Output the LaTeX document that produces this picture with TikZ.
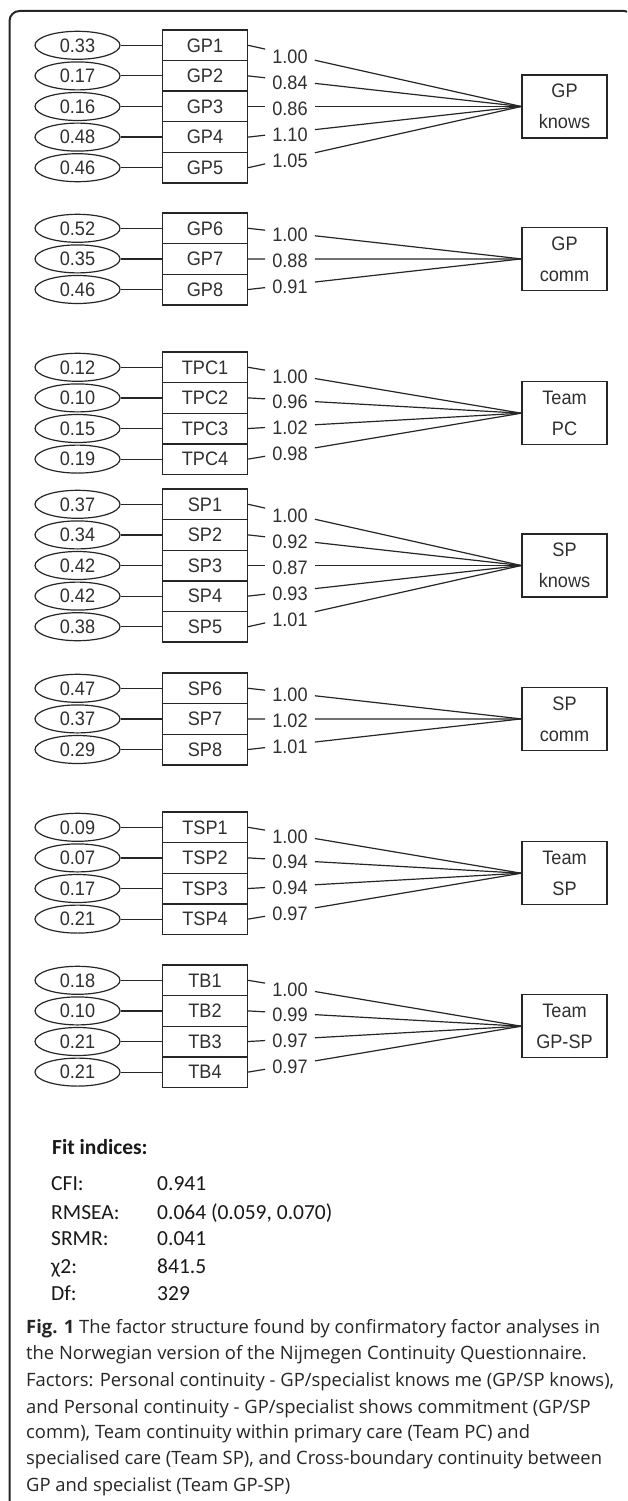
\documentclass[tikz,border=0pt]{standalone}
\usepackage{fontspec}
\setmainfont{Liberation Sans}
\newfontfamily\diafont[FakeStretch=0.93]{Liberation Sans}
\newfontfamily\capfont{Open Sans}
\newfontfamily\fitfont{Carlito}
\usetikzlibrary{shapes.geometric,calc}
\definecolor{ink}{HTML}{262626}
\definecolor{txt}{HTML}{303030}
\tikzset{
  ind/.style={draw=ink, line width=1.4pt, rectangle, minimum width=85pt, minimum height=30.6pt, inner sep=0pt, font=\diafont\fontsize{19.5pt}{21pt}\selectfont, text=txt},
  err/.style={draw=ink, line width=1.2pt, ellipse, minimum width=85pt, minimum height=28pt, inner sep=0pt, font=\diafont\fontsize{19.5pt}{21pt}\selectfont, text=txt},
  fac/.style={draw=ink, line width=1.4pt, rectangle, minimum width=85pt, minimum height=63pt, inner sep=0pt, align=center, font=\diafont\fontsize{19.5pt}{31pt}\selectfont, text=txt},
  conn/.style={draw=ink, line width=1.2pt},
  lab/.style={inner sep=0pt, font=\diafont\fontsize{19.5pt}{21pt}\selectfont, text=txt},
  captxt/.style={anchor=base west, inner sep=0pt, font=\capfont\fontsize{18.4pt}{21pt}\selectfont, text=black!85},
  fittxt/.style={anchor=base west, inner sep=0pt, font=\fitfont\fontsize{21.5pt}{25pt}\selectfont, text=black!90},
}
\newcommand\cfagroup[5]{%
  \pgfmathsetmacro\fy{#2+#3*15.3}
  \node[fac] (#1-f) at (564.5,\fy) {#4};
  \foreach \nm/\er/\ld [count=\k] in {#5}{
    \pgfmathsetmacro\yy{#2+(\k-0.5)*30.6}
    \node[ind] (#1-\k) at (205,\yy) {\nm};
    \node[err] (#1-e\k) at (77.5,\yy) {\er};
    \draw[conn] (#1-e\k) -- (#1-\k);
    \draw[conn] (#1-\k.east) -- ($(#1-\k.east)!0.062!(#1-f.west)$);
    \draw[conn] ($(#1-\k.east)!0.244!(#1-f.west)$) -- (#1-f.west);
    \path (#1-\k.east) -- (#1-f.west) node[lab, pos=0.153, yshift=-2pt] (#1-l\k) {\ld};
  }
}
\begin{document}
\begin{tikzpicture}[x=1pt,y=-1pt]
\useasboundingbox[fill=white] (0,0) rectangle (627,1501);
\begin{scope}
  \clip (0,0) rectangle (627,1501);
  \draw[ink, line width=2pt, rounded corners=10pt] (9.5,1560) -- (9.5,11) -- (634,11) -- (634,1560);
\end{scope}

\cfagroup{gpk}{30}{5}{GP\\knows}{GP1/0.33/1.00, GP2/0.17/0.84, GP3/0.16/0.86, GP4/0.48/1.10, GP5/0.46/1.05}
\cfagroup{gpc}{213}{3}{GP\\comm}{GP6/0.52/1.00, GP7/0.35/0.88, GP8/0.46/0.91}
\cfagroup{tpc}{352}{4}{Team\\PC}{TPC1/0.12/1.00, TPC2/0.10/0.96, TPC3/0.15/1.02, TPC4/0.19/0.98}
\cfagroup{spk}{489}{5}{SP\\knows}{SP1/0.37/1.00, SP2/0.34/0.92, SP3/0.42/0.87, SP4/0.42/0.93, SP5/0.38/1.01}
\cfagroup{spc}{673}{3}{SP\\comm}{SP6/0.47/1.00, SP7/0.37/1.02, SP8/0.29/1.01}
\cfagroup{tsp}{812}{4}{Team\\SP}{TSP1/0.09/1.00, TSP2/0.07/0.94, TSP3/0.17/0.94, TSP4/0.21/0.97}
\cfagroup{tb}{965}{4}{Team\\GP-SP}{TB1/0.18/1.00, TB2/0.10/0.99, TB3/0.21/0.97, TB4/0.21/0.97}

\node[fittxt] (fit) at (52,1154) {\textbf{Fit indices:}};
\node[fittxt] (k1) at (51,1190) {CFI:};
\node[fittxt] (v1) at (157,1190) {0.941};
\node[fittxt] (k2) at (51,1219) {RMSEA:};
\node[fittxt] (v2) at (157,1219) {0.064 (0.059, 0.070)};
\node[fittxt] (k3) at (51,1245) {SRMR:};
\node[fittxt] (v3) at (157,1245) {0.041};
\node[fittxt] (k4) at (51,1273) {χ2:};
\node[fittxt] (v4) at (157,1273) {841.5};
\node[fittxt] (k5) at (51,1300) {Df:};
\node[fittxt] (v5) at (157,1300) {329};

\node[captxt] (c1) at (26,1333) {\textbf{Fig. 1} The factor structure found by confirmatory factor analyses in};
\node[captxt] (c2) at (26,1359) {the Norwegian version of the Nijmegen Continuity Questionnaire.};
\node[captxt] (c3) at (26,1386) {Factors: Personal continuity - GP/specialist knows me (GP/SP knows),};
\node[captxt] (c4) at (26,1413) {and Personal continuity - GP/specialist shows commitment (GP/SP};
\node[captxt] (c5) at (26,1438) {comm), Team continuity within primary care (Team PC) and};
\node[captxt] (c6) at (26,1464) {specialised care (Team SP), and Cross-boundary continuity between};
\node[captxt] (c7) at (26,1491) {GP and specialist (Team GP-SP)};
\end{tikzpicture}
\end{document}
